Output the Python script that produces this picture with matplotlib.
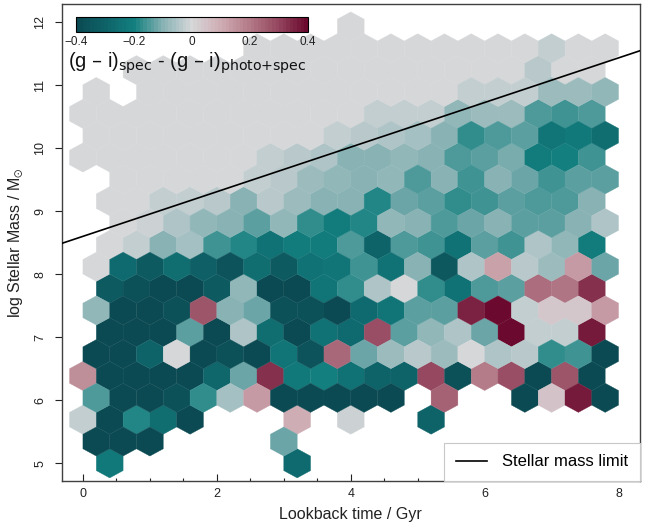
import numpy as np
import matplotlib
matplotlib.use("Agg")
import matplotlib.pyplot as plt
from matplotlib.colors import LinearSegmentedColormap

plt.rcParams['font.family'] = ['Liberation Sans', 'DejaVu Sans']
plt.rcParams['mathtext.default'] = 'regular'

# hexagon bins: 0.4 Gyr wide, mass rows spaced so the cells tile
t_step = 0.4
mass_first = 5.0
mass_step = t_step * np.sqrt(3) / 2

N = None  # empty cell

# lookback time of the first cell in each row (bottom row first)
row_start = [0.4, 0.2, 0.0, 0.2, 0.0, 0.2, 0.4, 0.2, 0.4, 0.2, 0.4,
             0.6, 0.4, 0.6, 0.0, 0.2, 0.0, 0.2, 0.8, 2.6, 4.0]

# mean (g-i)spec - (g-i)photo+spec per cell, left to right
row_00 = [-0.22, N, N, N, N, N, N, -0.27]
row_01 = [-0.40, -0.40, -0.40, N, N, N, N, -0.12]
row_02 = [-0.02, -0.40, -0.18, -0.26, -0.40, N, N, N, 0.10, N, -0.01, N, N, -0.30]
row_03 = [-0.15, -0.40, -0.40, -0.37, -0.17, -0.06, 0.13, -0.40, -0.40, -0.40,
          -0.40, -0.40, N, 0.25, N, N, -0.40, 0.05, 0.37, -0.40]
row_04 = [0.16, -0.40, -0.40, -0.40, -0.40, -0.28, -0.12, 0.33, -0.22, -0.20,
          -0.25, -0.30, -0.30, 0.30, -0.37, 0.20, 0.28, -0.40, 0.27, -0.40]
row_05 = [-0.40, -0.40, -0.30, 0.00, -0.40, -0.37, -0.40, -0.23, -0.36, 0.23,
          -0.12, -0.07, -0.04, -0.07, 0.00, -0.05, -0.04, -0.17, -0.16, -0.40]
row_06 = [-0.40, -0.40, -0.40, -0.14, -0.40, -0.05, -0.26, -0.40, -0.25, -0.27,
          0.28, -0.14, -0.08, -0.05, -0.12, 0.40, -0.03, -0.03, 0.37]
row_07 = [-0.08, -0.40, -0.40, -0.37, 0.27, -0.10, -0.12, -0.37, -0.37, -0.40,
          -0.27, -0.24, -0.14, -0.13, 0.36, 0.40, -0.03, 0.04, 0.04, 0.14]
row_08 = [-0.33, -0.37, -0.40, -0.40, -0.33, -0.08, -0.40, -0.40, -0.23, -0.17,
          -0.05, 0.00, -0.17, -0.25, -0.15, -0.14, 0.22, 0.21, 0.33]
row_09 = [0.00, -0.27, -0.33, -0.26, -0.31, -0.36, -0.26, -0.33, -0.25, -0.23,
          -0.16, -0.25, -0.10, -0.35, -0.05, 0.12, -0.04, -0.07, 0.13, -0.12]
row_10 = [0.00, -0.03, -0.10, -0.06, -0.16, -0.19, -0.25, -0.21, -0.21, -0.15,
          -0.30, -0.15, -0.16, -0.25, -0.14, -0.16, -0.05, -0.08, -0.21]
row_11 = [0.00, -0.01, -0.05, -0.08, -0.10, -0.14, -0.08, -0.17, -0.21, -0.19,
          -0.09, -0.10, -0.15, -0.12, -0.10, -0.14, -0.14, -0.10, -0.05]
row_12 = [0.00, 0.00, -0.03, -0.03, -0.04, -0.10, -0.04, -0.07, -0.10, -0.10,
          -0.18, -0.12, -0.13, -0.17, -0.16, -0.13, -0.15, -0.15, -0.10]
row_13 = [0.00, 0.00, 0.00, 0.00, 0.00, -0.03, -0.04, -0.07, -0.08, -0.10,
          -0.08, -0.15, -0.10, -0.16, -0.10, -0.12, -0.16, -0.14, -0.13]
row_14 = [0.00, 0.00, 0.00, 0.00, 0.00, 0.00, 0.00, -0.03, -0.04, -0.05,
          -0.10, -0.10, -0.08, -0.10, -0.15, -0.14, -0.11, -0.21, -0.20, -0.16]
row_15 = [0.00, 0.00, 0.00, 0.00, 0.00, 0.00, 0.00, 0.00, 0.00, -0.03,
          -0.04, -0.05, -0.06, -0.10, -0.17, -0.15, -0.14, -0.24, -0.22, -0.26]
row_16 = [0.00, 0.00, 0.00, 0.00, 0.00, 0.00, 0.00, 0.00, 0.00, 0.00,
          0.00, -0.03, -0.03, -0.03, -0.08, -0.07, -0.07, -0.15, -0.16, -0.15]
row_17 = [0.00, N, 0.00, 0.00, 0.00, 0.00, 0.00, 0.00, 0.00, 0.00,
          0.00, 0.00, 0.00, 0.00, -0.03, -0.02, -0.02, -0.07, -0.07, -0.09]
row_18 = [0.00, 0.00, 0.00, 0.00, 0.00, 0.00, 0.00, 0.00, 0.00, 0.00,
          0.00, 0.00, 0.00, 0.00, 0.00, -0.04, 0.00, 0.00]
row_19 = [0.00, 0.00, 0.00, 0.00, 0.00, 0.00, 0.00, 0.00, 0.00, 0.00,
          0.00, -0.03, 0.00, 0.00]
row_20 = [0.00]

rows = [row_00, row_01, row_02, row_03, row_04, row_05, row_06, row_07,
        row_08, row_09, row_10, row_11, row_12, row_13, row_14, row_15,
        row_16, row_17, row_18, row_19, row_20]

# stellar mass completeness limit
limit_t = [0.0, 8.0]
limit_mass = [8.60, 11.43]

t_pts, m_pts, c_pts = [], [], []
for j, (t0, vals) in enumerate(zip(row_start, rows)):
    for k, v in enumerate(vals):
        if v is None:
            continue
        t_pts.append(t0 + k * t_step)
        m_pts.append(mass_first + j * mass_step)
        c_pts.append(v)

# odd number of levels keeps 0 on the neutral grey
cmap = LinearSegmentedColormap.from_list('teal_maroon', [
    (0.0, '#0b4a52'), (0.125, '#0e6369'), (0.25, '#13807f'),
    (0.375, '#88b2b4'), (0.5, '#d6d7d9'), (0.625, '#cfadb4'),
    (0.75, '#b47b89'), (0.875, '#954860'), (1.0, '#6b0a2e')], N=65)

fig = plt.figure(figsize=(6.56, 5.28), dpi=100)
ax = fig.add_axes([0.09375, 0.089, 0.88185, 0.9029])

hb = ax.hexbin(t_pts, m_pts, C=c_pts, reduce_C_function=np.mean,
               gridsize=(20, 10),
               extent=(0.0, 8.0, mass_first, mass_first + 20 * mass_step),
               cmap=cmap, vmin=-0.4, vmax=0.4, mincnt=1,
               edgecolors='face', linewidths=0.25, zorder=1)

ax.axline((limit_t[0], limit_mass[0]), (limit_t[1], limit_mass[1]),
          color='black', lw=1.2, zorder=3, label='Stellar mass limit')

ax.set_xlim(-0.32, 8.32)
ax.set_ylim(4.72, 12.28)

ax.set_xticks([0, 2, 4, 6, 8])
ax.set_xticks(np.arange(0, 8.01, 0.5), minor=True)
ax.set_yticks(range(5, 13))
ax.tick_params(axis='x', which='major', direction='in', length=4.8, width=0.8,
               labelsize=9, pad=5, colors='#222222')
ax.tick_params(axis='x', which='minor', direction='in', length=2.4, width=0.8,
               colors='#222222')
ax.tick_params(axis='y', direction='out', length=5, width=0.8, labelsize=9,
               pad=6, labelrotation=90, colors='#222222')
for lab in ax.get_yticklabels():
    lab.set_verticalalignment('center')

for sp in ax.spines.values():
    sp.set_color('#404040')
    sp.set_linewidth(1.0)

ax.set_xlabel('Lookback time / Gyr', fontsize=11.5, labelpad=5, color='#222222')
ax.set_ylabel(r'log Stellar Mass / M$_{\odot}$', fontsize=11.5, labelpad=6,
              color='#222222')

leg = ax.legend(loc='lower right', frameon=True, fancybox=False,
                edgecolor='#c8c8c8', framealpha=1, borderaxespad=0,
                fontsize=12, handlelength=1.9, handletextpad=0.9,
                borderpad=0.7)
leg.get_frame().set_linewidth(0.8)
leg.set_zorder(5)

# colour bar inset in the top left corner
cax = ax.inset_axes([0.0245, 0.941, 0.401, 0.0327])
cb = fig.colorbar(hb, cax=cax, orientation='horizontal')
cb.set_ticks([-0.4, -0.2, 0.0, 0.2, 0.4],
             labels=['\u22120.4', '\u22120.2', '0', '0.2', '0.4'])
cb.ax.tick_params(length=0, labelsize=8.5, pad=2.5, colors='#222222')
cb.outline.set_linewidth(0.8)

ax.text(0.217, 0.866,
        r'(g $\u2013$ i)$_{\text{spec}}$ - (g $\u2013$ i)$_{\text{photo+spec}}$'
        .replace(r'$\u2013$', '\u2013'),
        transform=ax.transAxes, ha='center', va='baseline', fontsize=14.5,
        color='#111111', zorder=4)

fig.savefig('out.png', dpi=100)
